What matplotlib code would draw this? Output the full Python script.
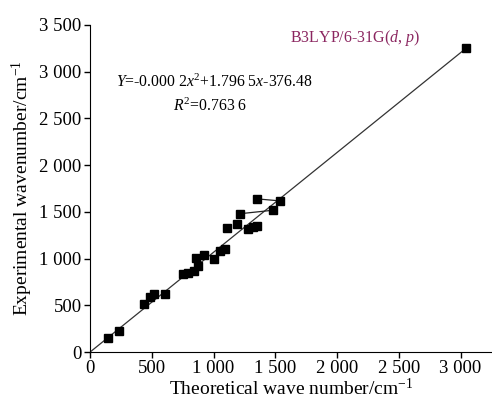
import matplotlib.pyplot as plt

plt.rcParams['font.family'] = ['Liberation Serif', 'DejaVu Serif']
plt.rcParams['mathtext.fontset'] = 'custom'
plt.rcParams['mathtext.rm'] = 'Liberation Serif'
plt.rcParams['mathtext.it'] = 'Liberation Serif:italic'

# theoretical vs experimental wavenumbers (cm-1)
theo = [148, 237, 437, 486, 521, 610, 756, 791, 845, 859, 873, 923, 1002, 1050,
        1090, 1107, 1190, 1215, 1283, 1318, 1350, 1350, 1480, 1539, 3046]
expt = [147, 225, 511, 592, 621, 621, 832, 843, 871, 1003, 921, 1039, 999, 1085,
        1103, 1331, 1369, 1480, 1321, 1340, 1349, 1639, 1517, 1617, 3251]

# fit line end points
fit_x = [0, 3046]
fit_y = [0, 3251]

# short connector segments between paired points
links = [([1215, 1480], [1480, 1517]), ([1350, 1539], [1639, 1617])]

xticks = [0, 500, 1000, 1500, 2000, 2500, 3000]
yticks = [0, 500, 1000, 1500, 2000, 2500, 3000, 3500]
fmt = lambda v: '{:,}'.format(v).replace(',', ' ')

fig = plt.figure(figsize=(4.92, 4.01), dpi=100)
ax = fig.add_axes([0.183, 0.122, 0.817, 0.816])

ax.plot(fit_x, fit_y, color='#333333', lw=0.9, zorder=1)
for lx, ly in links:
    ax.plot(lx, ly, color='#222222', lw=0.9, zorder=1)
ax.plot(theo, expt, 's', color='black', markersize=5.5, zorder=2)

ax.set_xlim(0, 3255)
ax.set_ylim(0, 3500)
ax.set_xticks(xticks)
ax.set_xticklabels([fmt(v) for v in xticks])
ax.set_yticks(yticks)
ax.set_yticklabels([fmt(v) for v in yticks])
ax.spines['top'].set_visible(False)
ax.spines['right'].set_visible(False)
ax.tick_params(direction='out', length=4, width=1, labelsize=13.5, pad=2)

ax.set_xlabel('Theoretical wave number/cm$^{-1}$', fontsize=14, labelpad=0)
ax.set_ylabel('Experimental wavenumber/cm$^{-1}$', fontsize=14, labelpad=3)

ax.text(1620, 3360, 'B3LYP/6-31G($\\mathit{d}$, $\\mathit{p}$)', color='#8b2660',
        fontsize=11.5, va='center')
ax.text(210, 2880, '$\\mathit{Y}$=-0.000 2$\\mathit{x}^2$+1.796 5$\\mathit{x}$-376.48',
        fontsize=11.3, va='center')
ax.text(675, 2625, '$\\mathit{R}^2$=0.763 6', fontsize=11.3, va='center')

fig.savefig('out.png', dpi=100)
